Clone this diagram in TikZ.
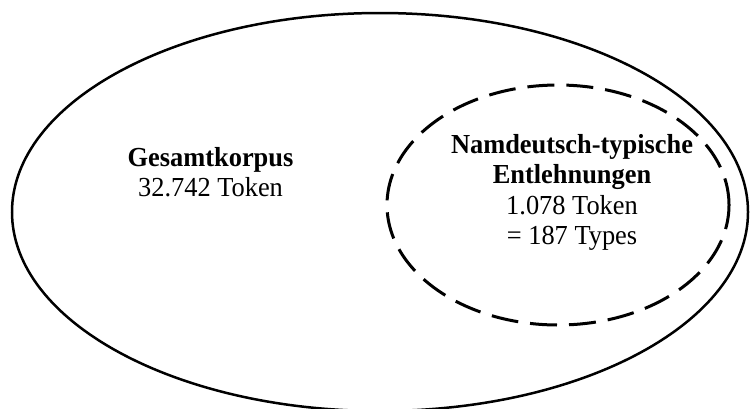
\documentclass[tikz,border=0pt]{standalone}
\usepackage{fontspec}
\setmainfont{Liberation Serif}[FakeStretch=0.96]
\begin{document}
\begin{tikzpicture}[x=1pt,y=-1pt,
  outer/.style={line width=2.5pt},
  inner/.style={line width=3pt, dash pattern=on 27pt off 12pt},
  label/.style={anchor=base, align=center, inner sep=0pt,
    font=\fontsize{27.5}{30.5}\selectfont}]
\useasboundingbox (0,0) rectangle (751,408);
\clip (0,0) rectangle (751,408);
\draw[outer] (380,212) ellipse [x radius=368pt, y radius=199pt];
\draw[inner] (558,205) ellipse [x radius=171pt, y radius=120pt];
\node[label] (gesamt) at (210.5,196.5) {\textbf{Gesamtkorpus}\\32.742 Token};
\node[label] (namd) at (572,244.8) {\textbf{Namdeutsch-typische}\\\textbf{Entlehnungen}\\1.078 Token\\= 187 Types};
\end{tikzpicture}
\end{document}
